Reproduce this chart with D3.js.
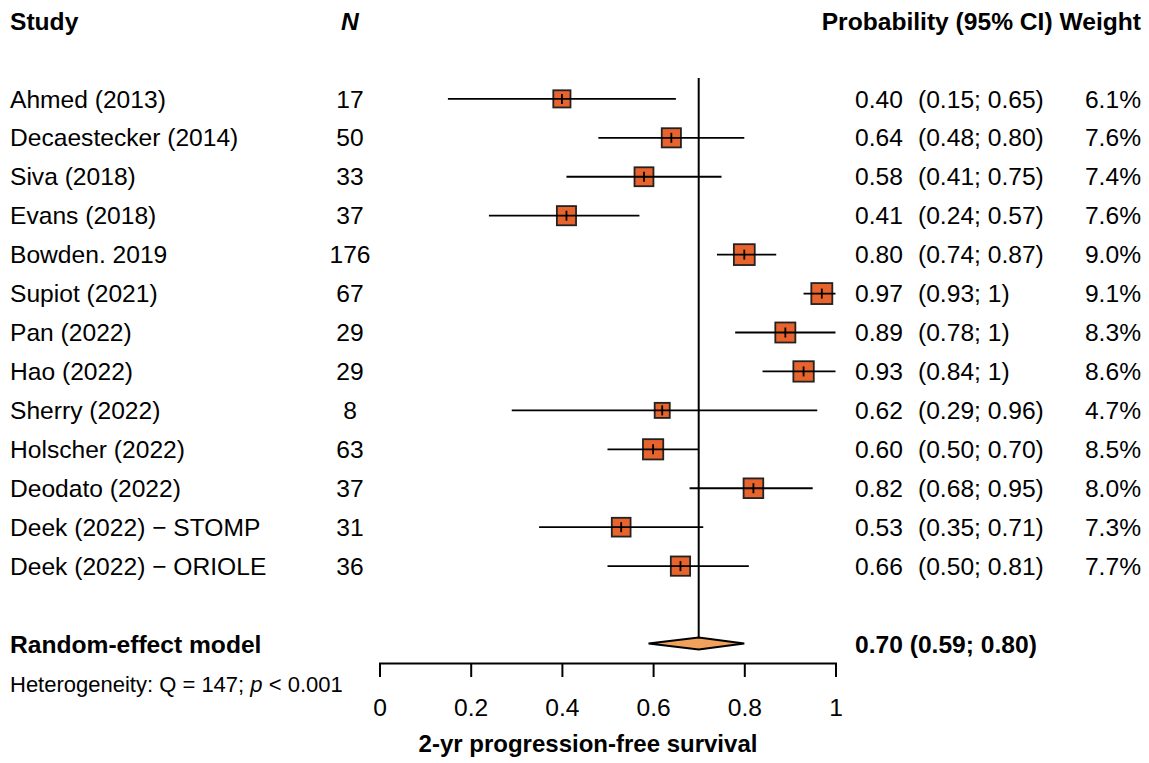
<!DOCTYPE html>
<html>
<head>
<meta charset="utf-8">
<script src="https://cdn.jsdelivr.net/npm/d3@7"></script>
<style>
  body { margin: 0; background: #fff; }
  text { font-family: "Liberation Sans", Arial, sans-serif; fill: #000; }
</style>
</head>
<body>
<script>
// study data
var studies = ["Ahmed (2013)", "Decaestecker (2014)", "Siva (2018)", "Evans (2018)", "Bowden. 2019",
               "Supiot (2021)", "Pan (2022)", "Hao (2022)", "Sherry (2022)", "Holscher (2022)",
               "Deodato (2022)", "Deek (2022) \u2212 STOMP", "Deek (2022) \u2212 ORIOLE"];
var sizes   = [17, 50, 33, 37, 176, 67, 29, 29, 8, 63, 37, 31, 36];
var est     = [0.40, 0.64, 0.58, 0.41, 0.80, 0.97, 0.89, 0.93, 0.62, 0.60, 0.82, 0.53, 0.66];
var lower   = [0.15, 0.48, 0.41, 0.24, 0.74, 0.93, 0.78, 0.84, 0.29, 0.50, 0.68, 0.35, 0.50];
var upper   = [0.65, 0.80, 0.75, 0.57, 0.87, 1, 1, 1, 0.96, 0.70, 0.95, 0.71, 0.81];
var weights = [6.1, 7.6, 7.4, 7.6, 9.0, 9.1, 8.3, 8.6, 4.7, 8.5, 8.0, 7.3, 7.7];

var pooled = [0.70, 0.59, 0.80]; // estimate, lower, upper
var ticks = [0, 0.2, 0.4, 0.6, 0.8, 1];

var w = 1149, h = 763;
var svg = d3.select("body").append("svg")
    .attr("width", w)
    .attr("height", h);

var x = d3.scaleLinear().domain([0, 1]).range([379.5, 835.5]);
// row index -> y (0 = header, 2.. = studies, 16 = pooled)
var y = d3.scaleLinear().domain([0, 16]).range([21, 644]);
var boxSize = d3.scaleSqrt().domain([0, 10]).range([0, 22]);

var fmt = d3.format(".2f");
function fmtCI(v) { return v === 1 ? "1" : fmt(v); }

var fs = "24.6px";

// headers
svg.append("text").attr("x", 10).attr("y", y(0)).attr("dy", "0.35em")
   .attr("font-size", fs).attr("font-weight", "bold").text("Study");
svg.append("text").attr("x", 350).attr("y", y(0)).attr("dy", "0.35em")
   .attr("text-anchor", "middle").attr("font-size", fs)
   .attr("font-weight", "bold").attr("font-style", "italic").text("N");
svg.append("text").attr("x", 1141).attr("y", y(0)).attr("dy", "0.35em")
   .attr("text-anchor", "end").attr("font-size", fs).attr("font-weight", "bold")
   .text("Probability (95% CI) Weight");

// reference line at pooled estimate
svg.append("line")
   .attr("x1", x(pooled[0])).attr("x2", x(pooled[0]))
   .attr("y1", 78).attr("y2", y(16) - 6)
   .attr("stroke", "#000").attr("stroke-width", 2);

var rows = svg.selectAll("g.row")
   .data(studies)
   .enter()
   .append("g")
   .attr("class", "row")
   .attr("transform", function(d, i) { return "translate(0," + y(i + 2) + ")"; });

rows.append("text").attr("x", 10).attr("dy", "0.35em").attr("font-size", fs)
   .text(function(d) { return d; });
rows.append("text").attr("x", 350).attr("dy", "0.35em").attr("font-size", fs)
   .attr("text-anchor", "middle")
   .text(function(d, i) { return sizes[i]; });
rows.append("text").attr("x", 855).attr("dy", "0.35em").attr("font-size", fs)
   .text(function(d, i) { return fmt(est[i]); });
rows.append("text").attr("x", 918).attr("dy", "0.35em").attr("font-size", fs)
   .text(function(d, i) { return "(" + fmtCI(lower[i]) + "; " + fmtCI(upper[i]) + ")"; });
rows.append("text").attr("x", 1141).attr("dy", "0.35em").attr("font-size", fs)
   .attr("text-anchor", "end")
   .text(function(d, i) { return weights[i].toFixed(1) + "%"; });

// squares
rows.append("rect")
   .attr("x", function(d, i) { return x(est[i]) - boxSize(weights[i]) / 2; })
   .attr("y", function(d, i) { return -boxSize(weights[i]) / 2; })
   .attr("width", function(d, i) { return boxSize(weights[i]); })
   .attr("height", function(d, i) { return boxSize(weights[i]); })
   .attr("fill", "#e8642c")
   .attr("stroke", "#222")
   .attr("stroke-width", 1.8);

// CI lines
rows.append("line")
   .attr("x1", function(d, i) { return x(lower[i]); })
   .attr("x2", function(d, i) { return x(upper[i]); })
   .attr("stroke", "#000").attr("stroke-width", 1.8);

// estimate tick
rows.append("line")
   .attr("x1", function(d, i) { return x(est[i]); })
   .attr("x2", function(d, i) { return x(est[i]); })
   .attr("y1", -5).attr("y2", 5)
   .attr("stroke", "#000").attr("stroke-width", 1.8);

// pooled row
svg.append("text").attr("x", 10).attr("y", y(16)).attr("dy", "0.35em")
   .attr("font-size", fs).attr("font-weight", "bold").text("Random-effect model");
svg.append("text").attr("x", 855).attr("y", y(16)).attr("dy", "0.35em")
   .attr("font-size", fs).attr("font-weight", "bold")
   .text(fmt(pooled[0]) + " (" + fmt(pooled[1]) + "; " + fmt(pooled[2]) + ")");

var yd = y(16) - 0.5;
svg.append("path")
   .attr("d", "M" + x(pooled[1]) + "," + yd +
              "L" + x(pooled[0]) + "," + (yd - 6) +
              "L" + x(pooled[2]) + "," + yd +
              "L" + x(pooled[0]) + "," + (yd + 6) + "Z")
   .attr("fill", "#f0a15c")
   .attr("stroke", "#000")
   .attr("stroke-width", 1.8);

// heterogeneity
var het = svg.append("text").attr("x", 10).attr("y", 684).attr("dy", "0.35em")
   .attr("font-size", "22px");
het.append("tspan").text("Heterogeneity: Q = 147; ");
het.append("tspan").attr("font-style", "italic").text("p");
het.append("tspan").text(" < 0.001");

// axis
var axis = svg.append("g")
   .attr("transform", "translate(0,663)")
   .call(d3.axisBottom(x).tickValues(ticks).tickSize(14).tickSizeOuter(14).tickPadding(22)
        .tickFormat(function(d) { return d === 0 || d === 1 ? d3.format("d")(d) : d3.format(".1f")(d); }));
axis.select(".domain").attr("stroke", "#000").attr("stroke-width", 2).attr("fill", "none");
axis.selectAll(".tick line").attr("stroke", "#000").attr("stroke-width", 2);
axis.selectAll(".tick text").attr("font-size", fs)
   .attr("font-family", "Liberation Sans, Arial, sans-serif").attr("fill", "#000");

svg.append("text").attr("x", 588).attr("y", 744).attr("dy", "0.35em")
   .attr("text-anchor", "middle").attr("font-size", "24px").attr("font-weight", "bold")
   .text("2-yr progression-free survival");
</script>
</body>
</html>
